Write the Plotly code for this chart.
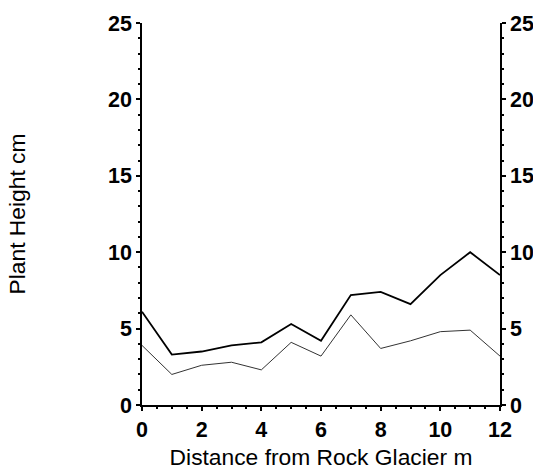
import plotly.graph_objects as go

distance = [0, 1, 2, 3, 4, 5, 6, 7, 8, 9, 10, 11, 12]
height_upper = [6.1, 3.3, 3.5, 3.9, 4.1, 5.3, 4.2, 7.2, 7.4, 6.6, 8.5, 10.0, 8.5]
height_lower = [3.9, 2.0, 2.6, 2.8, 2.3, 4.1, 3.2, 5.9, 3.7, 4.2, 4.8, 4.9, 3.2]
y_ticks = [0, 5, 10, 15, 20, 25]
x_ticks = [0, 2, 4, 6, 8, 10, 12]

FONT = "Liberation Sans, Arial, sans-serif"
tickfont = dict(family=FONT, size=21.5, color="black", weight="bold")
titlefont = dict(family=FONT, size=22.8, color="black")

fig = go.Figure()
fig.add_trace(go.Scatter(x=distance, y=height_upper, mode="lines",
                         line=dict(color="black", width=1.8), showlegend=False))
fig.add_trace(go.Scatter(x=distance, y=height_lower, mode="lines",
                         line=dict(color="#333333", width=1), showlegend=False))
# invisible trace to activate right axis
fig.add_trace(go.Scatter(x=distance, y=height_upper, yaxis="y2", mode="lines",
                         line=dict(width=0), hoverinfo="skip", showlegend=False, opacity=0))

axis_common = dict(showgrid=False, zeroline=False, showline=True, linecolor="black",
                   linewidth=1.5, ticks="outside", ticklen=4, tickwidth=1.5,
                   tickcolor="black", tickfont=tickfont, automargin=False)

fig.update_layout(
    width=533, height=470,
    margin=dict(l=142, r=33, t=23, b=65),
    plot_bgcolor="white", paper_bgcolor="white",
    xaxis=dict(range=[0, 12], tickvals=x_ticks, **axis_common,
               minor=dict(ticks="outside", ticklen=2, dtick=0.5, tickcolor="black"),
               title=dict(text="Distance from Rock Glacier m", font=titlefont, standoff=11)),
    yaxis=dict(range=[0, 25], tickvals=y_ticks, **axis_common,
               minor=dict(ticks="outside", ticklen=2, dtick=1, tickcolor="black"),
               title=dict(text="Plant Height cm", font=titlefont, standoff=76)),
    yaxis2=dict(range=[0, 25], tickvals=y_ticks, overlaying="y", side="right",
                **axis_common,
                minor=dict(ticks="outside", ticklen=2, dtick=1, tickcolor="black")),
)

fig.write_html("out.html")
